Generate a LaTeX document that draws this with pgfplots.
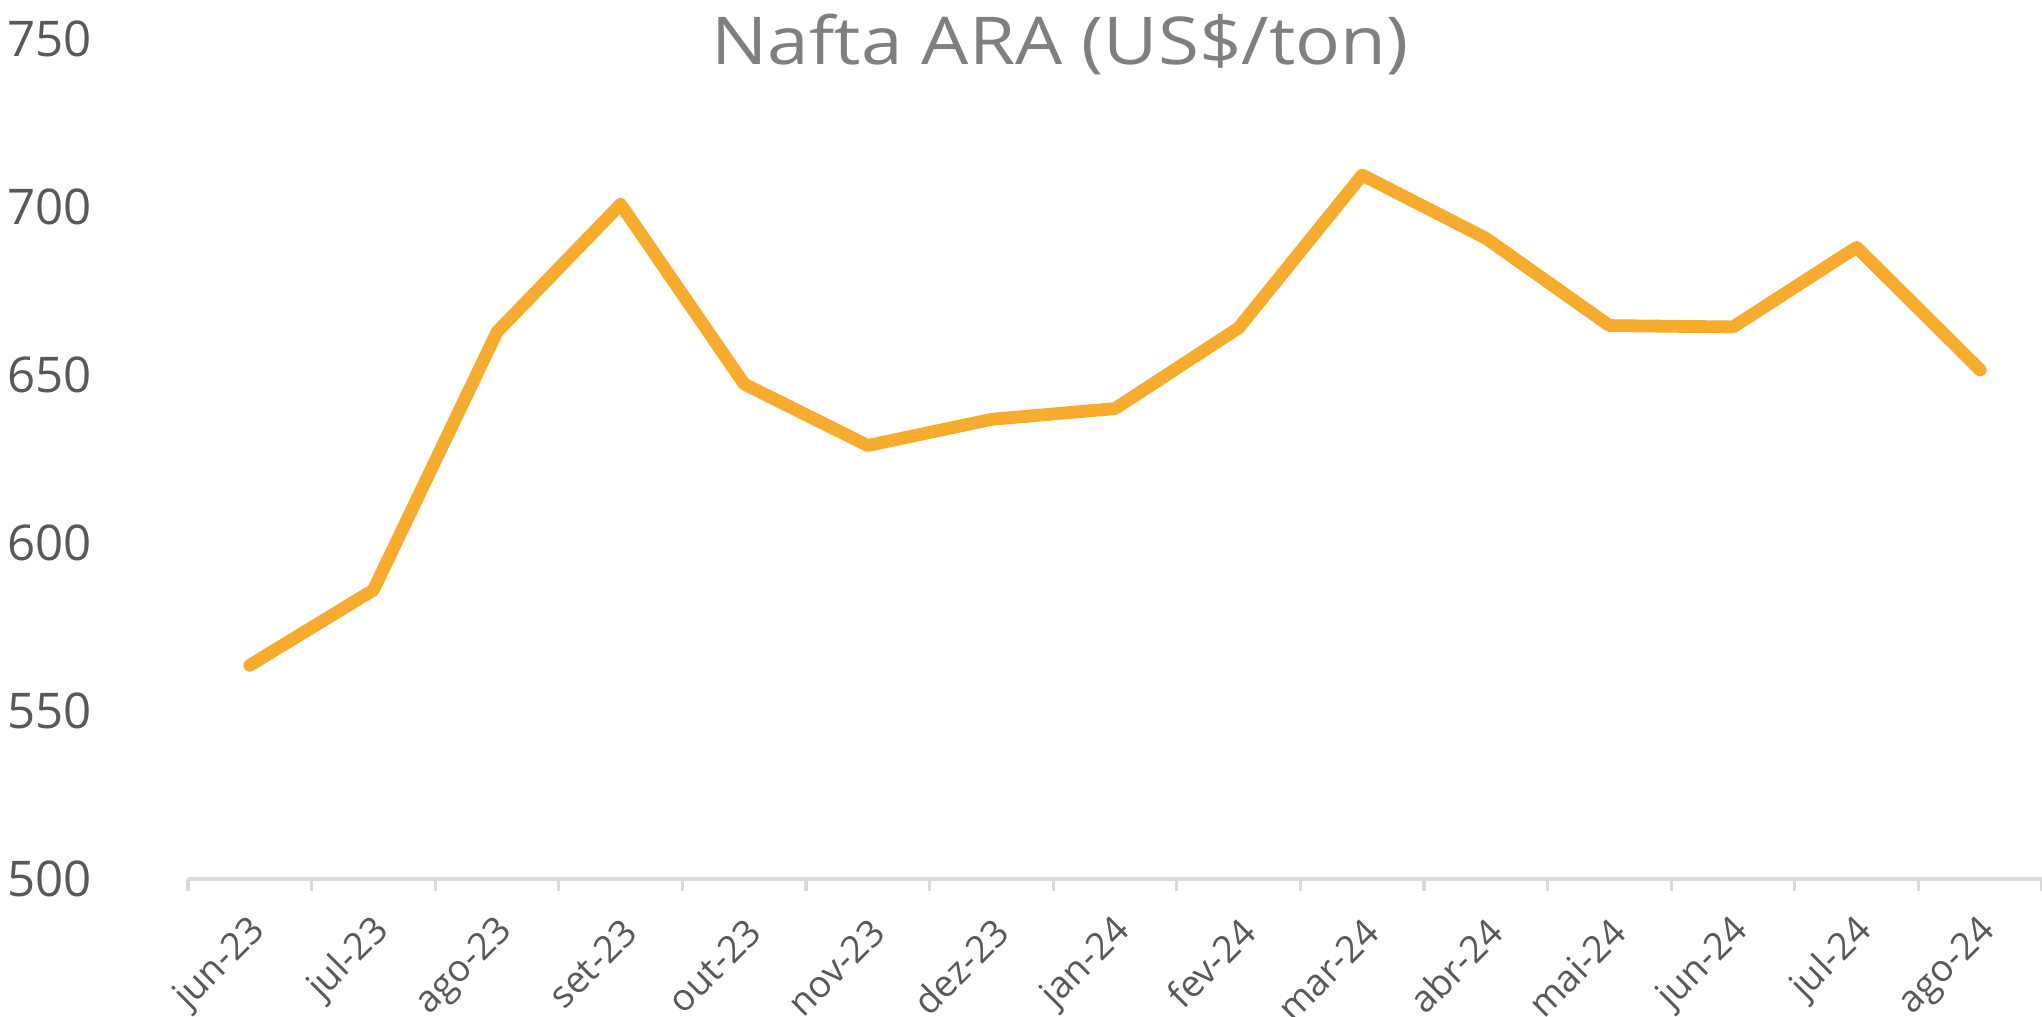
\documentclass[border=0pt]{standalone}
\usepackage{graphicx}
\usepackage{pgfplots}
\pgfplotsset{compat=1.18}
\usepackage{fontspec}
\setmainfont{Open Sans}
\definecolor{lineor}{HTML}{F7AC2E}
\definecolor{lblgray}{HTML}{595959}
\definecolor{ttlgray}{HTML}{7F7F7F}
\definecolor{axgray}{HTML}{D9D9D9}
\begin{document}
\begin{tikzpicture}
\path[use as bounding box] (-47pt,-34.25pt) rectangle (463.5pt,219.75pt);
\begin{axis}[
  at={(0,0)}, anchor=south west,
  scale only axis,
  width=463.5pt, height=210pt,
  xmin=-0.5, xmax=14.5,
  ymin=500, ymax=750,
  axis lines*=left,
  axis line style={-},
  x axis line style={draw=axgray, line width=0.8pt},
  y axis line style={draw=none},
  xtick={0,...,14},
  xticklabels={jun-23,jul-23,ago-23,set-23,out-23,nov-23,dez-23,jan-24,fev-24,mar-24,abr-24,mai-24,jun-24,jul-24,ago-24},
  minor xtick={-0.5,0.5,...,14.5},
  major x tick style={draw=none},
  minor x tick style={draw=axgray, line width=0.8pt},
  minor tick length=3pt,
  tick align=outside,
  ytick={500,550,...,750},
  major y tick style={draw=none},
  yticklabel style={anchor=west, xshift=-44.5pt, text=lblgray, font=\fontsize{12.3}{14}\selectfont},
  xticklabel style={rotate=45, anchor=east, text=lblgray, font=\fontsize{9.3}{11}\selectfont, yshift=-7pt, xshift=0pt},
  /pgf/number format/assume math mode=true,
  clip=false,
]
\addplot[lineor, line width=3.2pt, line join=round, line cap=round] coordinates {
(0,563.6) (1,586) (2,662.8) (3,700.8) (4,647.3) (5,629) (6,636.8) (7,640)
(8,664) (9,709.5) (10,690.7) (11,664.7) (12,664.3) (13,688) (14,651.5)
};
\end{axis}
\node[text=ttlgray, font=\fontsize{16.5}{19}\selectfont] at (218pt,208.6pt) {\scalebox{1.13}[1]{Nafta ARA (US\$/ton)}};
\end{tikzpicture}
\end{document}
